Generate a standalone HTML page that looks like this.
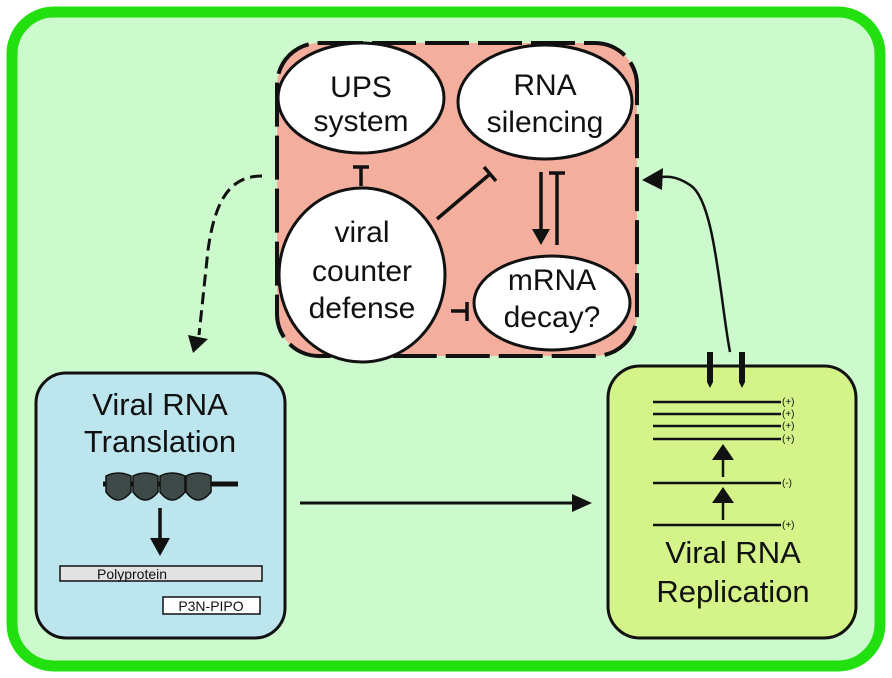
<!DOCTYPE html>
<html><head><style>body{margin:0;background:#fff}svg{display:block}svg text{font-family:"Liberation Sans",Arial,sans-serif;fill:#111}</style></head>
<body>
<svg width="892" height="678" viewBox="0 0 892 678" xmlns="http://www.w3.org/2000/svg" font-family="Liberation Sans, Arial, sans-serif">
<rect x="0" y="0" width="892" height="678" fill="#fff"/>
<rect x="12" y="12" width="868" height="654" rx="42" fill="#ccfacc" stroke="#22e010" stroke-width="11"/>
<!-- red box -->
<rect x="277" y="43" width="360" height="313" rx="42" fill="#f4ae9d" stroke="#111" stroke-width="4" stroke-dasharray="44,9"/>
<ellipse cx="361" cy="98" rx="83" ry="55" fill="#fff" stroke="#111" stroke-width="3"/>
<ellipse cx="545" cy="102" rx="87" ry="57" fill="#fff" stroke="#111" stroke-width="3"/>
<ellipse cx="362" cy="275" rx="83" ry="87" fill="#fff" stroke="#111" stroke-width="3"/>
<ellipse cx="552" cy="303" rx="78" ry="47" fill="#fff" stroke="#111" stroke-width="3"/>
<g font-size="30" text-anchor="middle" font-family="Liberation Sans, Arial, sans-serif">
<text x="361" y="97">UPS</text><text x="361" y="131">system</text>
<text x="545" y="95">RNA</text><text x="545" y="132">silencing</text>
<text x="362" y="242">viral</text><text x="362" y="281">counter</text><text x="362" y="318">defense</text>
<text x="552" y="290">mRNA</text><text x="552" y="327">decay?</text>
</g>
<g stroke="#111" stroke-width="3.5" fill="none">
<line x1="361" y1="186" x2="361" y2="167"/><line x1="353" y1="167" x2="369" y2="167"/>
<line x1="437" y1="219" x2="490" y2="174"/><line x1="484" y1="167" x2="496" y2="181"/>
<line x1="541" y1="172" x2="541" y2="230"/>
<line x1="557" y1="245" x2="557" y2="173"/><line x1="549" y1="173" x2="565" y2="173"/>
<line x1="451" y1="311" x2="467" y2="311"/><line x1="467" y1="302" x2="467" y2="321"/>
</g>
<path d="M532,229L550,229L541,245z" fill="#111"/>
<!-- dashed curve -->
<path d="M262,176 C230,176 215,200 208,250 L199,335" stroke="#111" stroke-width="3" fill="none" stroke-dasharray="12,6"/>
<path d="M188,335L208,339L193,353z" fill="#111"/>
<!-- right curve -->
<path d="M730,352 C720,300 715,200 690,185 C675,175 665,176 655,178" stroke="#111" stroke-width="2.5" fill="none"/>
<path d="M642,180L663,168L662,190z" fill="#111"/>
<!-- blue box -->
<rect x="36" y="373" width="249" height="265" rx="30" fill="#bde5ed" stroke="#111" stroke-width="3"/>
<g font-size="31" text-anchor="middle" font-family="Liberation Sans, Arial, sans-serif"><text x="160" y="415">Viral RNA</text><text x="160" y="452">Translation</text></g>
<line x1="103" y1="484" x2="238" y2="484" stroke="#111" stroke-width="5"/>
<g fill="#3d4a48" stroke="#111" stroke-width="1.5">
<path d="M106,476 Q118,470 131,476 L131,492 Q118,508 106,492z"/>
<path d="M133,476 Q145,470 158,476 L158,492 Q145,508 133,492z"/>
<path d="M160,476 Q172,470 185,476 L185,492 Q172,508 160,492z"/>
<path d="M186,476 Q198,470 211,476 L211,492 Q198,508 186,492z"/>
</g>
<line x1="160" y1="508" x2="160" y2="540" stroke="#111" stroke-width="3.5"/>
<path d="M150,538L170,538L160,556z" fill="#111"/>
<rect x="60" y="566" width="202" height="15" fill="#e2e2e2" stroke="#111" stroke-width="1.5"/>
<text x="97" y="579" font-size="14" font-family="Liberation Sans, Arial, sans-serif">Polyprotein</text>
<rect x="163" y="597" width="97" height="17" fill="#fff" stroke="#111" stroke-width="1.5"/>
<text x="211" y="611" font-size="14" text-anchor="middle" font-family="Liberation Sans, Arial, sans-serif">P3N-PIPO</text>
<!-- horizontal arrow -->
<line x1="300" y1="503" x2="575" y2="503" stroke="#111" stroke-width="3"/>
<path d="M572,494L592,503L572,512z" fill="#111"/>
<!-- green box -->
<rect x="608" y="366" width="248" height="272" rx="32" fill="#d4f48a" stroke="#111" stroke-width="3"/>
<path d="M707,352L713,352L713,382L710,388L707,382z M739,352L745,352L745,382L742,388L739,382z" fill="#111"/>
<g stroke="#111" stroke-width="2.5">
<line x1="653" y1="402" x2="781" y2="402"/><line x1="653" y1="414" x2="781" y2="414"/>
<line x1="653" y1="426" x2="781" y2="426"/><line x1="653" y1="439" x2="781" y2="439"/>
<line x1="653" y1="483" x2="781" y2="483"/><line x1="653" y1="525" x2="781" y2="525"/>
<line x1="723" y1="477" x2="723" y2="455"/><line x1="723" y1="520" x2="723" y2="500"/>
</g>
<path d="M712,460L734,460L723,444z M712,503L734,503L723,487z" fill="#111"/>
<g font-size="10" fill="#111" font-family="Liberation Sans, Arial, sans-serif"><text x="782" y="405">(+)</text><text x="782" y="417">(+)</text><text x="782" y="429">(+)</text><text x="782" y="442">(+)</text><text x="782" y="486">(-)</text><text x="782" y="528">(+)</text></g>
<g font-size="31" text-anchor="middle" font-family="Liberation Sans, Arial, sans-serif"><text x="733" y="563">Viral RNA</text><text x="733" y="602">Replication</text></g>
</svg>
</body></html>
